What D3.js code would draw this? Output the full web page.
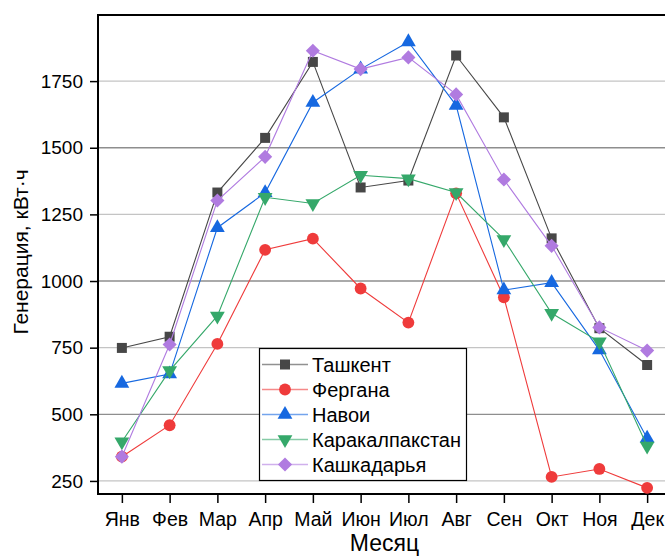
<!DOCTYPE html>
<html><head><meta charset="utf-8">
<script src="https://cdn.jsdelivr.net/npm/d3@7"></script>
<style>body{margin:0;background:#fff}svg{display:block}text{font-family:"Liberation Sans",Arial,sans-serif}</style>
</head><body>
<script>
const months = ["Янв","Фев","Мар","Апр","Май","Июн","Июл","Авг","Сен","Окт","Ноя","Дек"];
const tashkent = [749,791,1332,1537,1822,1351,1377,1846,1614,1160,823,685];
const fergana = [341,459,764,1117,1159,972,844,1329,939,265,295,224];
const navoi = [616,651,1200,1331,1670,1795,1897,1659,966,994,741,410];
const karakalpakstan = [397,664,869,1314,1291,1397,1384,1332,1156,879,772,381];
const kashkadarya = [341,762,1302,1466,1864,1795,1839,1700,1381,1132,826,739];
const seriesNames = ["Ташкент","Фергана","Навои","Каракалпакстан","Кашкадарья"];
const seriesColors = ["#474747","#ef3b3b","#1668e0","#35a86a","#b07be0"];
const seriesSymbols = ["square","circle","triangle","triangleDown","diamond"];
const yTicks = [250,500,750,1000,1250,1500,1750];

const W = 665, H = 557;
const margin = {left:98, top:15, right:671, bottom:494};
const svg = d3.select("body").append("svg").attr("width",W).attr("height",H);
const x = d3.scaleLinear().domain([0.5,12.5]).range([margin.left, margin.right]);
const y = d3.scaleLinear().domain([201,1998]).range([margin.bottom, margin.top]);

// grid
svg.append("g").selectAll("line").data(yTicks).join("line")
  .attr("x1",margin.left).attr("x2",margin.right)
  .attr("y1",d=>y(d)).attr("y2",d=>y(d))
  .attr("stroke",(d,i)=> i%2===0 ? "#c4c4c4" : "#8e8e8e").attr("stroke-width",1.3);

// axes
const yAxis = d3.axisLeft(y).tickValues(yTicks).tickFormat(d3.format("d")).tickSize(8).tickPadding(7);
const gy = svg.append("g").attr("transform",`translate(${margin.left},0)`).call(yAxis);
gy.select(".domain").remove();
gy.selectAll("line").attr("stroke","#000").attr("stroke-width",1.5);
gy.selectAll("text").attr("font-size",19).attr("fill","#000").attr("font-family","Liberation Sans, Arial, sans-serif");

const xAxis = d3.axisBottom(x).tickValues(d3.range(1,13)).tickFormat(d=>months[d-1]).tickSize(9).tickPadding(9);
const gx = svg.append("g").attr("transform",`translate(0,${margin.bottom})`).call(xAxis);
gx.select(".domain").remove();
gx.selectAll("line").attr("stroke","#000").attr("stroke-width",1.5);
gx.selectAll("text").attr("font-size",19.5).attr("fill","#000").attr("font-family","Liberation Sans, Arial, sans-serif");

// frame
svg.append("path").attr("d",`M${margin.right},${margin.top}H${margin.left}V${margin.bottom}H${margin.right}`)
  .attr("fill","none").attr("stroke","#000").attr("stroke-width",2);

const symMap = {square:d3.symbolSquare, circle:d3.symbolCircle, triangle:d3.symbolTriangle, triangleDown:d3.symbolTriangle, diamond:d3.symbolSquare};
const symSize = {square:100, circle:110, triangle:95, triangleDown:95, diamond:100};
function symPath(s){
  return d3.symbol(symMap[s], symSize[s])();
}
function symTransform(s, cx, cy){
  let t = `translate(${cx},${cy})`;
  if(s==="triangleDown") t += " rotate(180)";
  if(s==="diamond") t += " rotate(45)";
  return t;
}

const data = [tashkent, fergana, navoi, karakalpakstan, kashkadarya];
const line = d3.line().x((d,i)=>x(i+1)).y(d=>y(d));
data.forEach((vals,k)=>{
  const g = svg.append("g");
  g.append("path").attr("d",line(vals)).attr("fill","none").attr("stroke",seriesColors[k]).attr("stroke-width",1.1);
  g.selectAll("path.m").data(vals).join("path").attr("class","m")
    .attr("d",symPath(seriesSymbols[k]))
    .attr("transform",(d,i)=>symTransform(seriesSymbols[k], x(i+1), y(d)))
    .attr("fill",seriesColors[k]);
});

// legend
const lg = svg.append("g");
lg.append("rect").attr("x",259.5).attr("y",348.5).attr("width",207).attr("height",132)
  .attr("fill","#fff").attr("stroke","#000").attr("stroke-width",1.2);
seriesNames.forEach((n,k)=>{
  const cy = 364.5 + k*25;
  lg.append("line").attr("x1",262).attr("x2",308).attr("y1",cy).attr("y2",cy)
    .attr("stroke",seriesColors[k]).attr("stroke-width",1.6).attr("stroke-opacity",0.6);
  lg.append("path").attr("d",symPath(seriesSymbols[k]))
    .attr("transform",symTransform(seriesSymbols[k],285,cy)).attr("fill",seriesColors[k]);
  lg.append("text").attr("x",312).attr("y",cy).attr("dy","0.35em").attr("font-size",20).text(n);
});

// titles
svg.append("text").attr("x",384.5).attr("y",551).attr("text-anchor","middle").attr("font-size",23).text("Месяц");
svg.append("text").attr("transform","translate(28,252) rotate(-90)").attr("text-anchor","middle").attr("font-size",21).text("Генерация, кВт·ч");
</script>
</body></html>
